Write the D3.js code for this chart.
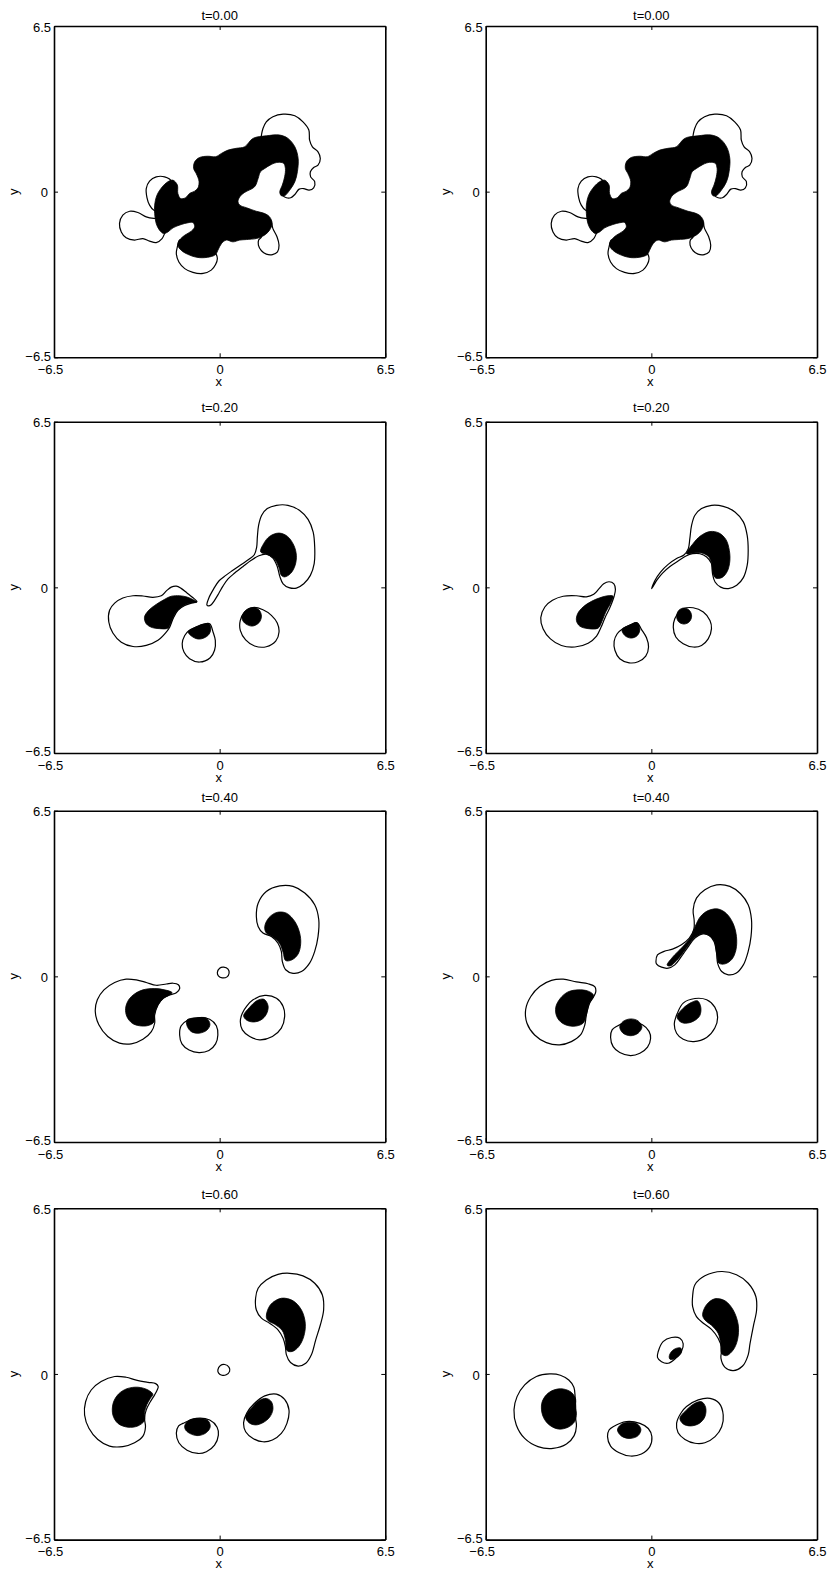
<!DOCTYPE html>
<html>
<head>
<meta charset="utf-8">
<script src="https://cdn.jsdelivr.net/npm/d3@7"></script>
<style>
  body { margin: 0; background: #fff; }
  svg text { font-family: "Liberation Sans", Arial, Helvetica, sans-serif; fill: #000; }
</style>
</head>
<body>
<svg id="fig" width="829" height="1570"></svg>
<script>
// ---- axis ticks ----
const tickValues = [-6.5, 0, 6.5];
const tickLabels = ["\u22126.5", "0", "6.5"];
const panelTitles = ["t=0.00", "t=0.00", "t=0.20", "t=0.20", "t=0.40", "t=0.40", "t=0.60", "t=0.60"];

// ---- vorticity contours, (x, y) in domain units ----
// "low" = outer contour level (drawn as line), "high" = inner level (filled black)

// t = 0.00 : inner level, one connected patch
const t00_core = [[1.31,2.09],[1.83,2.19],[2.36,2.22],[2.68,2.09],[2.95,1.76],[3.08,1.30],[3.05,0.78],[2.95,0.39],[2.75,0.06],[2.55,-0.16],[2.42,-0.16],[2.36,-0.01],[2.46,0.26],[2.55,0.58],[2.58,0.91],[2.51,1.11],[2.29,1.15],[2.03,1.07],[1.77,0.91],[1.60,0.78],[1.51,0.52],[1.37,0.19],[0.98,-0.03],[0.79,-0.20],[0.72,-0.40],[0.79,-0.53],[1.05,-0.63],[1.44,-0.77],[1.77,-0.86],[1.96,-0.99],[2.06,-1.25],[1.96,-1.51],[1.81,-1.67],[1.64,-1.77],[1.44,-1.84],[1.05,-1.88],[0.79,-1.90],[0.52,-1.97],[0.26,-1.90],[0.07,-2.04],[-0.07,-2.30],[-0.16,-2.47],[-0.39,-2.56],[-0.79,-2.59],[-1.18,-2.49],[-1.51,-2.30],[-1.64,-2.10],[-1.57,-1.90],[-1.37,-1.71],[-1.11,-1.55],[-0.98,-1.38],[-1.05,-1.21],[-1.24,-1.22],[-1.51,-1.29],[-1.83,-1.42],[-2.03,-1.58],[-2.20,-1.64],[-2.36,-1.51],[-2.49,-1.25],[-2.55,-0.86],[-2.55,-0.53],[-2.46,-0.14],[-2.25,0.19],[-2.03,0.39],[-1.83,0.45],[-1.66,0.26],[-1.64,-0.07],[-1.53,-0.27],[-1.34,-0.24],[-1.18,-0.07],[-0.98,0.02],[-0.85,0.15],[-0.81,0.41],[-0.92,0.71],[-1.02,0.91],[-0.98,1.17],[-0.79,1.34],[-0.46,1.39],[-0.16,1.37],[0.07,1.50],[0.33,1.63],[0.65,1.70],[0.98,1.76]];
// t = 0.00 : outer level, the parts lying outside the inner patch
const t00_lobeNE = [[1.60,1.95],[1.64,2.22],[1.70,2.48],[1.83,2.74],[2.09,2.94],[2.49,3.04],[2.95,2.98],[3.27,2.74],[3.50,2.42],[3.53,2.02],[3.64,1.76],[3.86,1.56],[3.95,1.30],[3.86,1.04],[3.69,0.95],[3.56,0.78],[3.57,0.58],[3.73,0.39],[3.69,0.15],[3.51,0.06],[3.30,0.12],[3.12,0.10],[2.95,-0.11],[2.79,-0.24],[2.62,-0.24],[2.49,-0.16],[2.48,-0.02]];
const t00_lobeSE = [[1.85,-1.15],[1.99,-1.12],[2.09,-1.45],[2.25,-1.77],[2.33,-2.10],[2.27,-2.36],[2.07,-2.47],[1.83,-2.45],[1.64,-2.32],[1.52,-2.10],[1.53,-1.90],[1.64,-1.77],[1.62,-1.60]];
const t00_lobeS = [[-1.40,-1.95],[-1.57,-1.90],[-1.66,-2.17],[-1.70,-2.43],[-1.60,-2.76],[-1.37,-3.02],[-1.05,-3.17],[-0.65,-3.21],[-0.33,-3.08],[-0.16,-2.86],[-0.09,-2.63],[-0.13,-2.47],[-0.25,-2.35]];
const t00_lobeWN = [[-1.95,0.25],[-1.90,0.41],[-2.16,0.58],[-2.49,0.58],[-2.75,0.41],[-2.88,0.12],[-2.85,-0.24],[-2.75,-0.53],[-2.58,-0.73],[-2.40,-0.75]];
const t00_lobeWS = [[-2.40,-1.05],[-2.58,-1.05],[-2.88,-0.99],[-3.21,-0.82],[-3.53,-0.77],[-3.80,-0.92],[-3.93,-1.25],[-3.86,-1.58],[-3.67,-1.81],[-3.34,-1.90],[-3.01,-1.84],[-2.75,-1.94],[-2.49,-2.00],[-2.26,-1.84],[-2.16,-1.64],[-2.10,-1.45]];

// t = 0.20, left run
const t20L_A_low = [[-0.50,-0.69],[-0.42,-0.41],[-0.24,-0.07],[-0.03,0.25],[0.24,0.47],[0.52,0.67],[0.85,0.90],[1.15,1.10],[1.36,1.28],[1.45,1.56],[1.48,1.98],[1.53,2.44],[1.65,2.83],[1.87,3.09],[2.23,3.22],[2.68,3.22],[3.14,3.02],[3.47,2.67],[3.67,2.17],[3.73,1.58],[3.71,0.93],[3.56,0.47],[3.30,0.14],[3.01,-0.03],[2.72,-0.01],[2.49,0.14],[2.36,0.43],[2.26,0.82],[2.09,1.15],[1.83,1.30],[1.54,1.24],[1.24,1.06],[0.92,0.82],[0.59,0.56],[0.33,0.33],[0.13,0.05],[-0.04,-0.25],[-0.20,-0.51],[-0.33,-0.68],[-0.43,-0.73]];
const t20L_A_high = [[1.61,1.39],[1.73,1.72],[1.96,2.00],[2.33,2.13],[2.66,2.00],[2.91,1.65],[3.01,1.26],[2.96,0.86],[2.78,0.54],[2.55,0.41],[2.42,0.47],[2.33,0.77],[2.16,1.10],[1.90,1.28]];
const t20L_B_low = [[-0.89,-0.56],[-1.07,-0.39],[-1.28,-0.22],[-1.51,-0.04],[-1.70,0.05],[-1.90,0.01],[-2.09,-0.14],[-2.29,-0.33],[-2.62,-0.39],[-3.01,-0.34],[-3.40,-0.33],[-3.80,-0.42],[-4.12,-0.62],[-4.32,-0.90],[-4.35,-1.36],[-4.19,-1.79],[-3.86,-2.15],[-3.40,-2.32],[-2.88,-2.28],[-2.42,-2.08],[-2.12,-1.79],[-1.96,-1.56],[-1.83,-1.23],[-1.64,-0.90],[-1.37,-0.71],[-1.11,-0.62]];
const t20L_B_high = [[-0.89,-0.58],[-1.05,-0.48],[-1.28,-0.38],[-1.57,-0.33],[-1.90,-0.35],[-2.23,-0.51],[-2.55,-0.71],[-2.81,-0.93],[-2.95,-1.17],[-2.88,-1.43],[-2.64,-1.58],[-2.36,-1.62],[-2.03,-1.60],[-1.90,-1.36],[-1.73,-1.01],[-1.47,-0.75],[-1.18,-0.62]];
const t20L_C_low = [[-0.39,-1.43],[-0.26,-1.75],[-0.17,-2.08],[-0.20,-2.47],[-0.37,-2.76],[-0.79,-2.93],[-1.18,-2.80],[-1.40,-2.54],[-1.47,-2.21],[-1.37,-1.89],[-1.20,-1.69],[-0.92,-1.56],[-0.63,-1.45]];
const t20L_C_high = [[-1.23,-1.75],[-0.98,-1.58],[-0.68,-1.45],[-0.42,-1.43],[-0.35,-1.66],[-0.46,-1.89],[-0.79,-2.03],[-1.05,-1.95]];
const t20L_D_low = [[1.31,-0.79],[1.70,-0.88],[2.03,-1.10],[2.26,-1.40],[2.33,-1.75],[2.20,-2.11],[1.83,-2.33],[1.37,-2.30],[1.02,-2.06],[0.81,-1.69],[0.81,-1.30],[0.98,-0.97]];
const t20L_D_high = [[0.89,-1.10],[1.05,-0.88],[1.31,-0.79],[1.54,-0.88],[1.64,-1.13],[1.54,-1.39],[1.28,-1.52],[1.02,-1.43],[0.89,-1.27]];

// t = 0.20, right run
const t20R_A_low = [[0.01,-0.05],[0.14,0.27],[0.36,0.60],[0.66,0.90],[0.99,1.13],[1.29,1.28],[1.45,1.52],[1.51,1.91],[1.58,2.44],[1.71,2.83],[1.97,3.09],[2.36,3.22],[2.82,3.18],[3.28,2.96],[3.61,2.57],[3.76,2.04],[3.80,1.45],[3.76,0.86],[3.61,0.38],[3.35,0.08],[3.02,-0.05],[2.72,0.01],[2.50,0.21],[2.40,0.54],[2.36,0.93],[2.17,1.19],[1.91,1.32],[1.62,1.32],[1.36,1.23],[1.05,1.03],[0.73,0.82],[0.44,0.56],[0.23,0.30],[0.07,0.04]];
const t20R_A_high = [[1.38,1.32],[1.64,1.72],[1.93,2.02],[2.30,2.19],[2.66,2.13],[2.93,1.87],[3.06,1.45],[3.08,1.03],[2.98,0.63],[2.78,0.39],[2.52,0.37],[2.40,0.60],[2.36,0.97],[2.23,1.22],[1.97,1.35],[1.67,1.35]];
const t20R_B_low = [[-1.47,-0.38],[-1.41,-0.08],[-1.47,0.14],[-1.66,0.22],[-1.87,0.14],[-2.05,-0.05],[-2.26,-0.27],[-2.55,-0.37],[-2.94,-0.33],[-3.46,-0.35],[-3.88,-0.51],[-4.18,-0.77],[-4.34,-1.19],[-4.25,-1.62],[-3.96,-2.02],[-3.53,-2.28],[-3.00,-2.34],[-2.48,-2.19],[-2.15,-1.91],[-1.98,-1.58],[-1.81,-1.17],[-1.63,-0.80]];
const t20R_B_high = [[-1.50,-0.35],[-1.70,-0.33],[-2.02,-0.41],[-2.35,-0.55],[-2.68,-0.77],[-2.89,-1.03],[-2.94,-1.30],[-2.81,-1.52],[-2.48,-1.62],[-2.09,-1.60],[-1.94,-1.34],[-1.79,-0.97],[-1.60,-0.62]];
const t20R_C_low = [[-0.56,-1.39],[-0.39,-1.65],[-0.19,-1.98],[-0.11,-2.34],[-0.22,-2.70],[-0.52,-2.92],[-0.87,-2.96],[-1.24,-2.80],[-1.43,-2.47],[-1.46,-2.12],[-1.34,-1.82],[-1.11,-1.61],[-0.82,-1.47]];
const t20R_C_high = [[-1.15,-1.66],[-0.87,-1.49],[-0.56,-1.39],[-0.45,-1.65],[-0.56,-1.90],[-0.80,-1.99],[-1.04,-1.89]];
const t20R_D_low = [[1.25,-0.84],[1.64,-0.80],[2.04,-0.97],[2.30,-1.30],[2.36,-1.62],[2.23,-2.02],[1.97,-2.28],[1.64,-2.34],[1.25,-2.21],[0.96,-1.95],[0.86,-1.56],[0.92,-1.23],[1.09,-0.97]];
const t20R_D_high = [[0.99,-1.13],[1.08,-0.90],[1.28,-0.81],[1.49,-0.90],[1.58,-1.13],[1.49,-1.35],[1.28,-1.44],[1.07,-1.35]];

// t = 0.40, left run
const t40L_A_low = [[1.51,2.87],[1.83,3.33],[2.36,3.55],[2.88,3.53],[3.34,3.27],[3.73,2.81],[3.89,2.22],[3.86,1.56],[3.73,0.98],[3.53,0.52],[3.21,0.19],[2.88,0.12],[2.59,0.26],[2.46,0.58],[2.42,0.98],[2.29,1.30],[2.03,1.56],[1.70,1.70],[1.51,1.96],[1.44,2.35]];
const t40L_A_high = [[1.77,1.96],[1.94,2.31],[2.25,2.51],[2.62,2.48],[2.95,2.15],[3.14,1.70],[3.18,1.28],[3.08,0.88],[2.84,0.65],[2.59,0.62],[2.49,0.94],[2.36,1.28],[2.09,1.54],[1.83,1.70]];
const t40L_B_low = [[-1.57,-0.48],[-1.62,-0.33],[-1.83,-0.27],[-2.09,-0.30],[-2.49,-0.35],[-2.88,-0.24],[-3.27,-0.14],[-3.67,-0.11],[-4.12,-0.24],[-4.54,-0.53],[-4.80,-0.92],[-4.88,-1.38],[-4.74,-1.90],[-4.39,-2.36],[-3.93,-2.62],[-3.47,-2.65],[-3.01,-2.47],[-2.68,-2.17],[-2.55,-1.84],[-2.55,-1.51],[-2.42,-1.12],[-2.23,-0.86],[-1.96,-0.73],[-1.70,-0.64]];
const t40L_B_high = [[-1.87,-0.64],[-2.16,-0.53],[-2.55,-0.48],[-3.01,-0.53],[-3.34,-0.69],[-3.57,-0.92],[-3.69,-1.25],[-3.64,-1.58],[-3.43,-1.84],[-3.14,-1.94],[-2.81,-1.93],[-2.58,-1.80],[-2.55,-1.45],[-2.42,-1.12],[-2.20,-0.87]];
const t40L_C_low = [[-1.24,-1.71],[-0.79,-1.62],[-0.39,-1.68],[-0.13,-1.94],[-0.07,-2.30],[-0.16,-2.65],[-0.42,-2.91],[-0.81,-2.99],[-1.20,-2.89],[-1.48,-2.65],[-1.57,-2.30],[-1.51,-1.94]];
const t40L_C_high = [[-1.28,-1.71],[-0.92,-1.63],[-0.52,-1.64],[-0.38,-1.88],[-0.50,-2.11],[-0.81,-2.23],[-1.11,-2.17],[-1.28,-1.94]];
const t40L_D_low = [[1.31,-0.92],[1.77,-0.75],[2.23,-0.86],[2.49,-1.18],[2.55,-1.58],[2.42,-2.03],[2.07,-2.36],[1.57,-2.49],[1.18,-2.36],[0.89,-2.10],[0.81,-1.77],[0.89,-1.45],[1.07,-1.16]];
const t40L_D_high = [[0.94,-1.54],[1.18,-1.21],[1.47,-0.95],[1.74,-0.90],[1.90,-1.16],[1.83,-1.49],[1.62,-1.71],[1.31,-1.79],[1.05,-1.71]];
const t40L_E_low = [[-0.09,0.15],[0.00,0.32],[0.16,0.36],[0.33,0.28],[0.37,0.12],[0.29,-0.02],[0.10,-0.06],[-0.05,0.02]];

// t = 0.40, right run
const t40R_A_low = [[0.18,0.58],[0.24,0.84],[0.50,0.98],[0.83,1.07],[1.18,1.24],[1.49,1.50],[1.67,1.85],[1.68,2.19],[1.64,2.61],[1.77,3.07],[2.10,3.40],[2.56,3.59],[3.08,3.53],[3.50,3.24],[3.80,2.81],[3.93,2.22],[3.91,1.56],[3.80,0.98],[3.61,0.45],[3.32,0.12],[3.02,0.06],[2.76,0.19],[2.60,0.52],[2.56,0.91],[2.46,1.37],[2.27,1.60],[2.01,1.67],[1.71,1.50],[1.45,1.17],[1.18,0.78],[0.92,0.45],[0.66,0.32],[0.40,0.36],[0.20,0.49]];
const t40R_A_high = [[0.62,0.44],[0.83,0.75],[1.22,1.15],[1.54,1.53],[1.72,1.96],[1.93,2.35],[2.25,2.59],[2.63,2.64],[2.95,2.46],[3.21,2.07],[3.34,1.56],[3.32,1.04],[3.16,0.67],[2.89,0.49],[2.65,0.52],[2.56,0.91],[2.47,1.37],[2.27,1.60],[2.01,1.67],[1.75,1.55],[1.51,1.30],[1.25,0.94],[0.99,0.62],[0.75,0.41]];
const t40R_B_low = [[-2.18,-0.60],[-2.22,-0.40],[-2.48,-0.29],[-2.94,-0.22],[-3.46,-0.11],[-3.92,-0.16],[-4.38,-0.40],[-4.73,-0.79],[-4.93,-1.29],[-4.88,-1.84],[-4.58,-2.30],[-4.12,-2.60],[-3.60,-2.69],[-3.14,-2.56],[-2.78,-2.30],[-2.61,-1.90],[-2.55,-1.51],[-2.42,-1.05],[-2.26,-0.79]];
const t40R_B_high = [[-2.27,-0.74],[-2.48,-0.58],[-2.87,-0.53],[-3.27,-0.61],[-3.57,-0.86],[-3.75,-1.21],[-3.71,-1.58],[-3.49,-1.84],[-3.07,-1.96],[-2.68,-1.84],[-2.55,-1.51],[-2.45,-1.09]];
const t40R_C_low = [[-1.37,-1.97],[-0.84,-1.77],[-0.35,-1.90],[-0.09,-2.16],[-0.03,-2.44],[-0.15,-2.78],[-0.45,-3.02],[-0.82,-3.11],[-1.24,-2.99],[-1.50,-2.76],[-1.60,-2.39],[-1.54,-2.10]];
const t40R_C_high = [[-1.24,-1.99],[-1.11,-1.77],[-0.81,-1.67],[-0.52,-1.75],[-0.37,-1.99],[-0.52,-2.23],[-0.81,-2.33],[-1.11,-2.23]];
const t40R_D_low = [[1.25,-1.05],[1.71,-0.87],[2.17,-0.92],[2.49,-1.21],[2.60,-1.60],[2.49,-2.03],[2.17,-2.40],[1.67,-2.56],[1.25,-2.47],[0.99,-2.23],[0.90,-1.87],[1.02,-1.45]];
const t40R_D_high = [[1.01,-1.58],[1.25,-1.25],[1.58,-1.02],[1.81,-0.96],[1.94,-1.21],[1.90,-1.54],[1.67,-1.75],[1.34,-1.84],[1.12,-1.77]];

// t = 0.60, left run
const t60L_A_low = [[1.51,3.36],[1.83,3.69],[2.29,3.91],[2.75,3.95],[3.27,3.85],[3.73,3.56],[4.03,3.10],[4.08,2.51],[3.95,1.92],[3.77,1.34],[3.60,0.75],[3.38,0.42],[3.08,0.31],[2.78,0.45],[2.62,0.75],[2.58,1.07],[2.49,1.40],[2.29,1.73],[1.96,1.99],[1.64,2.19],[1.44,2.51],[1.41,2.97]];
const t60L_A_high = [[1.83,2.25],[1.99,2.71],[2.42,2.97],[2.88,2.87],[3.21,2.51],[3.36,1.99],[3.30,1.47],[3.10,1.07],[2.84,0.88],[2.64,0.92],[2.58,1.34],[2.46,1.70],[2.16,1.95],[1.90,2.09]];
const t60L_B_low = [[-2.46,-0.65],[-2.41,-0.50],[-2.51,-0.38],[-2.81,-0.33],[-3.27,-0.24],[-3.67,-0.13],[-4.12,-0.10],[-4.65,-0.30],[-5.04,-0.63],[-5.26,-1.09],[-5.30,-1.61],[-5.13,-2.13],[-4.78,-2.57],[-4.32,-2.83],[-3.80,-2.85],[-3.34,-2.70],[-3.01,-2.44],[-2.91,-2.07],[-2.95,-1.74],[-2.88,-1.41],[-2.72,-1.09],[-2.55,-0.82]];
const t60L_B_high = [[-2.62,-0.80],[-2.81,-0.63],[-3.21,-0.52],[-3.64,-0.58],[-3.97,-0.79],[-4.18,-1.15],[-4.19,-1.61],[-3.99,-1.94],[-3.60,-2.09],[-3.21,-2.04],[-2.95,-1.83],[-2.95,-1.51],[-2.85,-1.19],[-2.72,-0.96]];
const t60L_C_low = [[-1.44,-1.94],[-0.92,-1.74],[-0.39,-1.81],[-0.10,-2.09],[-0.05,-2.40],[-0.20,-2.79],[-0.52,-3.05],[-0.85,-3.12],[-1.28,-2.99],[-1.60,-2.70],[-1.70,-2.33],[-1.61,-2.04]];
const t60L_C_high = [[-1.36,-2.00],[-1.18,-1.81],[-0.81,-1.75],[-0.46,-1.83],[-0.37,-2.07],[-0.52,-2.30],[-0.85,-2.42],[-1.18,-2.33],[-1.35,-2.17]];
const t60L_D_low = [[1.37,-1.15],[1.77,-0.86],[2.23,-0.79],[2.55,-1.00],[2.72,-1.41],[2.64,-1.94],[2.42,-2.33],[2.07,-2.59],[1.70,-2.66],[1.31,-2.53],[1.02,-2.27],[0.94,-1.91],[1.07,-1.52]];
const t60L_D_high = [[1.02,-1.68],[1.24,-1.35],[1.54,-1.05],[1.83,-0.96],[2.03,-1.09],[2.09,-1.39],[1.96,-1.70],[1.70,-1.91],[1.41,-2.00],[1.15,-1.91]];
const t60L_E_low = [[-0.07,0.16],[0.03,0.33],[0.20,0.37],[0.37,0.26],[0.39,0.10],[0.26,-0.03],[0.09,-0.05],[-0.04,0.03]];

// t = 0.60, right run
const t60R_A_low = [[1.71,3.50],[2.10,3.85],[2.76,4.02],[3.34,3.89],[3.80,3.56],[4.10,3.04],[4.13,2.51],[4.00,1.86],[3.87,1.18],[3.80,0.75],[3.58,0.31],[3.21,0.13],[2.89,0.26],[2.73,0.62],[2.76,1.01],[2.62,1.40],[2.36,1.75],[2.04,1.99],[1.77,2.25],[1.62,2.64],[1.62,3.06]];
const t60R_A_high = [[2.01,2.32],[2.16,2.71],[2.49,2.95],[2.89,2.87],[3.21,2.51],[3.41,1.92],[3.38,1.34],[3.21,0.94],[2.95,0.72],[2.76,0.79],[2.72,1.20],[2.62,1.60],[2.36,1.91],[2.10,2.12]];
const t60R_B_low = [[-2.99,-0.92],[-3.04,-0.52],[-3.24,-0.24],[-3.57,-0.05],[-3.99,0.00],[-4.51,-0.10],[-4.97,-0.43],[-5.27,-0.89],[-5.39,-1.41],[-5.30,-2.00],[-4.97,-2.53],[-4.45,-2.85],[-3.86,-2.92],[-3.33,-2.75],[-3.03,-2.42],[-2.94,-2.04],[-2.98,-1.68],[-2.97,-1.31]];
const t60R_B_high = [[-2.97,-1.00],[-3.13,-0.73],[-3.46,-0.59],[-3.83,-0.63],[-4.12,-0.82],[-4.30,-1.15],[-4.27,-1.61],[-4.05,-1.96],[-3.66,-2.16],[-3.27,-2.09],[-3.01,-1.87],[-2.94,-1.54],[-2.99,-1.28]];
const t60R_C_low = [[-1.50,-2.07],[-0.98,-1.87],[-0.45,-1.94],[-0.12,-2.14],[0.02,-2.46],[-0.06,-2.85],[-0.39,-3.14],[-0.82,-3.22],[-1.26,-3.09],[-1.60,-2.83],[-1.72,-2.46],[-1.66,-2.20]];
const t60R_C_high = [[-1.33,-2.20],[-1.21,-2.00],[-0.91,-1.90],[-0.58,-1.94],[-0.41,-2.17],[-0.52,-2.42],[-0.84,-2.53],[-1.17,-2.44]];
const t60R_D_low = [[1.38,-1.28],[1.84,-1.02],[2.30,-0.96],[2.66,-1.15],[2.82,-1.61],[2.76,-2.07],[2.50,-2.46],[2.10,-2.70],[1.71,-2.72],[1.32,-2.57],[1.05,-2.31],[0.99,-1.94],[1.15,-1.55]];
const t60R_D_high = [[1.12,-1.74],[1.38,-1.41],[1.71,-1.15],[1.97,-1.09],[2.13,-1.31],[2.10,-1.68],[1.88,-1.94],[1.54,-2.04],[1.25,-1.96]];
const t60R_E_low = [[0.27,0.88],[0.46,1.27],[0.79,1.43],[1.12,1.40],[1.25,1.18],[1.18,0.88],[0.96,0.62],[0.66,0.42],[0.40,0.48],[0.24,0.65]];
const t60R_E_high = [[0.70,0.68],[0.79,0.88],[0.99,1.01],[1.16,1.01],[1.18,0.85],[1.05,0.68],[0.86,0.58],[0.73,0.58]];

// ---- panel table: contour sets per frame ----
const t00 = { open: [t00_lobeNE, t00_lobeSE, t00_lobeS, t00_lobeWN, t00_lobeWS], low: [], high: [t00_core] };
const panels = [
  t00,
  t00,
  { open: [], low: [t20L_A_low, t20L_B_low, t20L_C_low, t20L_D_low], high: [t20L_A_high, t20L_B_high, t20L_C_high, t20L_D_high] },
  { open: [], low: [t20R_A_low, t20R_B_low, t20R_C_low, t20R_D_low], high: [t20R_A_high, t20R_B_high, t20R_C_high, t20R_D_high] },
  { open: [], low: [t40L_A_low, t40L_B_low, t40L_C_low, t40L_D_low, t40L_E_low], high: [t40L_A_high, t40L_B_high, t40L_C_high, t40L_D_high] },
  { open: [], low: [t40R_A_low, t40R_B_low, t40R_C_low, t40R_D_low], high: [t40R_A_high, t40R_B_high, t40R_C_high, t40R_D_high] },
  { open: [], low: [t60L_A_low, t60L_B_low, t60L_C_low, t60L_D_low, t60L_E_low], high: [t60L_A_high, t60L_B_high, t60L_C_high, t60L_D_high] },
  { open: [], low: [t60R_A_low, t60R_B_low, t60R_C_low, t60R_D_low, t60R_E_low], high: [t60R_A_high, t60R_B_high, t60R_C_high, t60R_D_high, t60R_E_high] }
];

// ---- layout ----
const colLeft = [54, 485.7];
const rowTop = [26, 421.7, 810.7, 1208.3];
const titleGap = [6.5, 10.2, 9.2, 9.2];
const xNameGap = [29, 29, 29, 28];
const plotSize = 331.3;
const fontSize = 13;
const domain = [-6.5, 6.5];

const svg = d3.select("#fig");

panels.forEach((p, i) => {
  const col = i % 2, row = Math.floor(i / 2);
  const left = colLeft[col], top = rowTop[row];
  const x = d3.scaleLinear().domain(domain).range([left, left + plotSize]);
  const y = d3.scaleLinear().domain(domain).range([top + plotSize, top]);

  const closedLine = d3.line().x(d => x(d[0])).y(d => y(d[1])).curve(d3.curveCatmullRomClosed.alpha(0.5));
  const openLine = d3.line().x(d => x(d[0])).y(d => y(d[1])).curve(d3.curveCatmullRom.alpha(0.5));

  const g = svg.append("g").attr("class", "panel");

  // outer contour level
  g.selectAll("path.open").data(p.open).join("path")
    .attr("class", "open").attr("d", openLine)
    .attr("fill", "none").attr("stroke", "#000").attr("stroke-width", 1.2);
  g.selectAll("path.low").data(p.low).join("path")
    .attr("class", "low").attr("d", closedLine)
    .attr("fill", "none").attr("stroke", "#000").attr("stroke-width", 1.2)
    .attr("stroke-linejoin", "round");
  // inner contour level, filled
  g.selectAll("path.high").data(p.high).join("path")
    .attr("class", "high").attr("d", closedLine)
    .attr("fill", "#000").attr("stroke", "#000").attr("stroke-width", 0.8)
    .attr("stroke-linejoin", "round");

  // box axes with inward ticks
  const fmt = (d, k) => tickLabels[k];
  const mk = (axis, showLabels) => axis.tickValues(tickValues)
    .tickSizeInner(-4).tickSizeOuter(0)
    .tickFormat(showLabels ? fmt : () => "");

  const styleAxis = sel => {
    sel.attr("font-size", fontSize).attr("font-family", null);
    sel.select(".domain").attr("stroke", "#000").attr("stroke-width", 1.6);
    sel.selectAll(".tick line").attr("stroke", "#000").attr("stroke-width", 1);
  };

  g.append("g").attr("transform", `translate(0,${top + plotSize})`)
    .call(mk(d3.axisBottom(x), true).tickPadding(7.5)).call(styleAxis)
    .selectAll(".tick text").attr("dx", d => d < 0 ? -4 : 0);
  g.append("g").attr("transform", `translate(0,${top})`)
    .call(mk(d3.axisTop(x), false)).call(styleAxis);
  g.append("g").attr("transform", `translate(${left},0)`)
    .call(mk(d3.axisLeft(y), true).tickPadding(3)).call(styleAxis)
    .selectAll(".tick text")
    .attr("dy", d => d < 0 ? "0.22em" : "0.4em")
    .attr("dx", d => d === 0 ? -3 : 0);
  g.append("g").attr("transform", `translate(${left + plotSize},0)`)
    .call(mk(d3.axisRight(y), false)).call(styleAxis);

  // title and axis names
  g.append("text")
    .attr("x", left + plotSize / 2).attr("y", top - titleGap[row])
    .attr("text-anchor", "middle").attr("font-size", fontSize)
    .text(panelTitles[i]);
  g.append("text")
    .attr("x", left + plotSize / 2 - 1).attr("y", top + plotSize + xNameGap[row])
    .attr("text-anchor", "middle").attr("font-size", fontSize)
    .text("x");
  g.append("text")
    .attr("transform", `translate(${left - 36},${top + plotSize / 2}) rotate(-90)`)
    .attr("text-anchor", "middle").attr("font-size", fontSize)
    .text("y");
});
</script>
</body>
</html>
